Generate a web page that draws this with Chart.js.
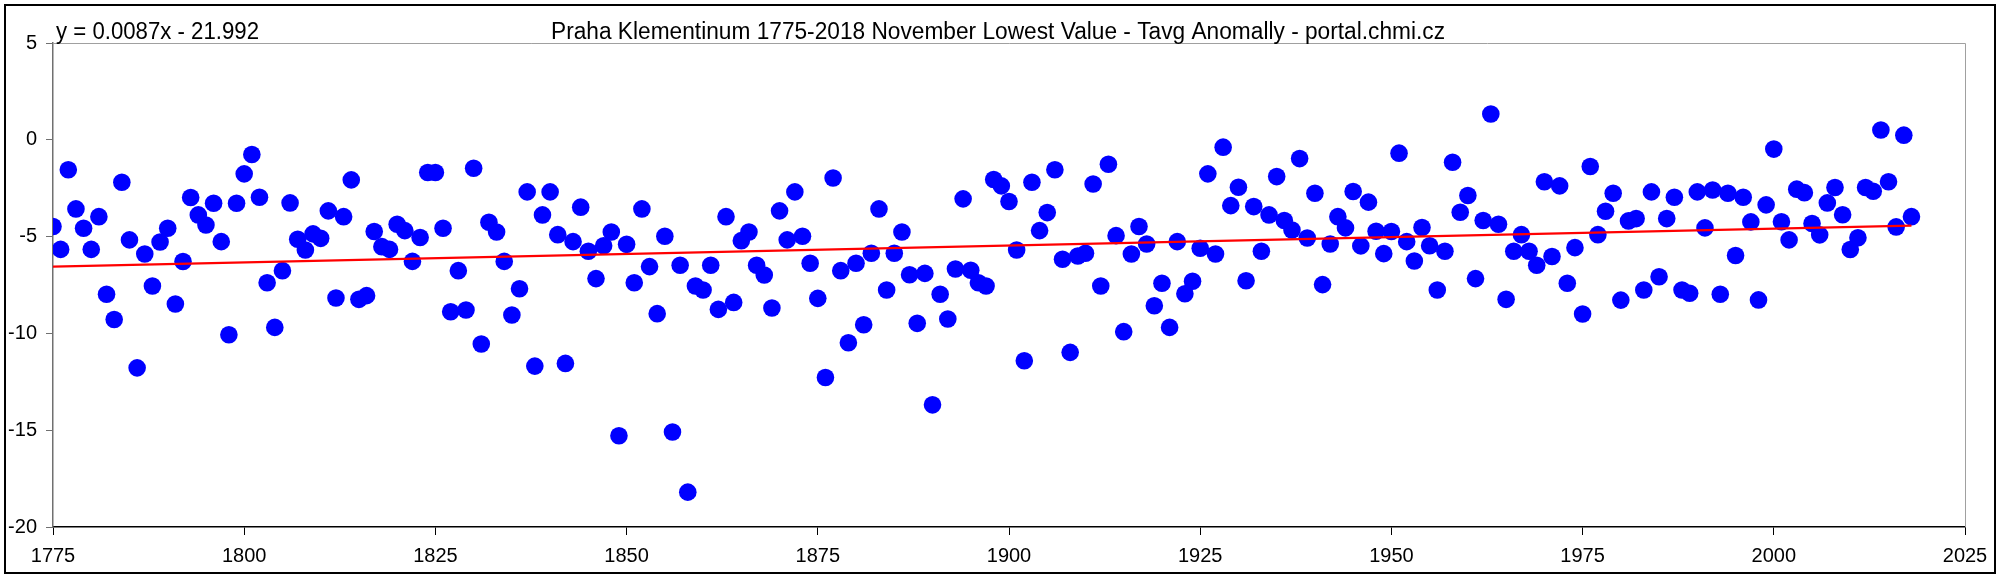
<!DOCTYPE html>
<html>
<head>
<meta charset="utf-8">
<title>Praha Klementinum November Lowest Value</title>
<script src="https://cdn.jsdelivr.net/npm/chart.js@4"></script>
<style>
  html, body { margin: 0; padding: 0; background: #fff; }
  #wrap { width: 2000px; height: 577px; }
</style>
</head>
<body>
<div id="wrap"><canvas id="chart" width="2000" height="577"></canvas></div>
<script>
// November lowest daily Tavg anomaly, Praha Klementinum
const firstYear = 1775;
const lowestValues = [
    -4.48, -5.66, -1.55, -3.57, -4.57, -5.66, -3.97, -7.98, -9.28, -2.19,   // 1775-1784
    -5.17, -11.78, -5.90, -7.55, -5.28, -4.57, -8.48, -6.29, -2.98, -3.88,  // 1785-1794
    -4.40, -3.28, -5.26, -10.07, -3.28, -1.76, -0.76, -2.97, -7.38, -9.69,  // 1795-1804
    -6.76, -3.26, -5.14, -5.69, -4.86, -5.09, -3.67, -8.17, -3.97, -2.07,   // 1805-1814
    -8.24, -8.05, -4.74, -5.52, -5.66, -4.36, -4.69, -6.28, -5.05, -1.69,   // 1815-1824
    -1.69, -4.57, -8.88, -6.76, -8.79, -1.47, -10.55, -4.26, -4.76, -6.28,  // 1825-1834
    -9.05, -7.69, -2.69, -11.69, -3.88, -2.69, -4.90, -11.55, -5.26, -3.48, // 1835-1844
    -5.76, -7.17, -5.47, -4.76, -15.29, -5.40, -7.38, -3.57, -6.55, -8.98,  // 1845-1854
    -4.98, -15.09, -6.48, -18.2, -7.55, -7.76, -6.48, -8.76, -3.97, -8.40,  // 1855-1864
    -5.21, -4.76, -6.48, -6.98, -8.69, -3.67, -5.17, -2.69, -4.98, -6.38,   // 1865-1874
    -8.19, -12.28, -1.97, -6.76, -10.48, -6.38, -9.55, -5.86, -3.57, -7.76, // 1875-1884
    -5.86, -4.76, -6.97, -9.48, -6.90, -13.69, -7.98, -9.26, -6.67, -3.05,  // 1885-1894
    -6.74, -7.38, -7.55, -2.05, -2.38, -3.19, -5.69, -11.41, -2.19, -4.69,  // 1895-1904
    -3.76, -1.55, -6.17, -10.98, -6.00, -5.86, -2.28, -7.55, -1.26, -4.95,  // 1905-1914
    -9.91, -5.90, -4.48, -5.38, -8.57, -7.41, -9.69, -5.26, -7.95, -7.31,   // 1915-1924
    -5.60, -1.76, -5.90, -0.38, -3.40, -2.45, -7.28, -3.45, -5.76, -3.88,   // 1925-1934
    -1.90, -4.17, -4.66, -0.97, -5.07, -2.76, -7.48, -5.38, -3.97, -4.55,   // 1935-1944
    -2.67, -5.48, -3.22, -4.72, -5.88, -4.74, -0.69, -5.26, -6.26, -4.53,   // 1945-1954
    -5.47, -7.76, -5.76, -1.16, -3.74, -2.88, -7.17, -4.17, 1.33, -4.36,    // 1955-1964
    -8.24, -5.76, -4.90, -5.76, -6.48, -2.17, -6.03, -2.38, -7.41, -5.57,   // 1965-1974
    -9.00, -1.38, -4.90, -3.69, -2.76, -8.28, -4.19, -4.07, -7.76, -2.69,   // 1975-1984
    -7.07, -4.07, -2.97, -7.76, -7.93, -2.69, -4.55, -2.59, -7.98, -2.76,   // 1985-1994
    -5.98, -2.97, -4.24, -8.27, -3.36, -0.48, -4.23, -5.17, -2.55, -2.73,   // 1995-2004
    -4.32, -4.91, -3.26, -2.46, -3.87, -5.67, -5.06, -2.46, -2.66, 0.51,    // 2005-2014
    -2.17, -4.50, 0.24, -3.97                                              // 2015-2018
];
const years = lowestValues.map((_, i) => firstYear + i);

// linear trend as printed on the chart: y = 0.0087x - 21.992
const trendSlope = 0.0087;
const trendIntercept = -21.992;
const trendYears = [years[0], years[years.length - 1]];

const titleText = 'Praha Klementinum 1775-2018 November Lowest Value - Tavg Anomally - portal.chmi.cz';
const equationText = 'y = 0.0087x - 21.992';

const FONT = '"Liberation Sans", Arial, sans-serif';

// draws white background, outer frame, plot frame and the two header texts
const decorPlugin = {
    id: 'decor',
    beforeDraw(chart) {
        const ctx = chart.ctx;
        ctx.save();
        ctx.fillStyle = '#fff';
        ctx.fillRect(0, 0, chart.width, chart.height);
        ctx.restore();
    },
    afterDraw(chart) {
        const ctx = chart.ctx;
        const a = chart.chartArea;
        ctx.save();
        // grey frame on top and right of plot area
        ctx.strokeStyle = '#a0a0a0';
        ctx.lineWidth = 1;
        ctx.beginPath();
        ctx.moveTo(a.left, a.top + 0.5);
        ctx.lineTo(a.right + 0.5, a.top + 0.5);
        ctx.lineTo(a.right + 0.5, a.bottom);
        ctx.stroke();
        // outer frame
        ctx.strokeStyle = '#000';
        ctx.lineWidth = 2;
        ctx.strokeRect(5, 5, chart.width - 10, chart.height - 9);

        // header texts, slightly condensed like the original
        ctx.fillStyle = '#000';
        ctx.font = '23px ' + FONT;
        ctx.textBaseline = 'alphabetic';
        drawSqueezed(ctx, titleText, 998, 39, 894, 'center');
        drawSqueezed(ctx, equationText, 56, 39, 203, 'left');
        ctx.restore();
    }
};

function drawSqueezed(ctx, text, x, y, width, align) {
    const w = ctx.measureText(text).width;
    const k = width / w;
    ctx.save();
    ctx.translate(align === 'center' ? x - width / 2 : x, y);
    ctx.scale(k, 1);
    ctx.textAlign = 'left';
    ctx.fillText(text, 0, 0);
    ctx.restore();
}

document.addEventListener('DOMContentLoaded', () => {
    const ctx = document.getElementById('chart').getContext('2d');

    new Chart(ctx, {
        type: 'scatter',
        data: {
            datasets: [
                {
                    label: 'Trend',
                    type: 'line',
                    data: trendYears.map(yr => ({ x: yr, y: trendSlope * yr + trendIntercept })),
                    borderColor: '#ff0000',
                    borderWidth: 2.2,
                    pointRadius: 0,
                    fill: false,
                    order: 0
                },
                {
                    label: 'Lowest value',
                    data: years.map((yr, i) => ({ x: yr, y: lowestValues[i] })),
                    pointRadius: 8.8,
                    pointBackgroundColor: '#0000ff',
                    pointBorderWidth: 0,
                    borderWidth: 0,
                    order: 1
                }
            ]
        },
        options: {
            responsive: false,
            animation: false,
            devicePixelRatio: 1,
            layout: { padding: { left: 0, right: 35, top: 43, bottom: 0 } },
            plugins: {
                legend: { display: false },
                title: { display: false },
                tooltip: { enabled: false }
            },
            scales: {
                x: {
                    type: 'linear',
                    min: 1775,
                    max: 2025,
                    afterFit: (scale) => { scale.height = 50; },
                    border: { display: true, color: '#000', width: 1.5 },
                    grid: { drawOnChartArea: false, drawTicks: true, tickLength: 8, color: '#000' },
                    ticks: {
                        stepSize: 25,
                        padding: 9,
                        color: '#000',
                        font: { family: FONT, size: 20 },
                        maxRotation: 0,
                        callback: (v) => String(v)
                    }
                },
                y: {
                    min: -20,
                    max: 5,
                    afterFit: (scale) => { scale.width = 53; },
                    border: { display: true, color: '#707070', width: 1.5 },
                    grid: { drawOnChartArea: false, drawTicks: true, tickLength: 7, color: '#707070' },
                    ticks: {
                        stepSize: 5,
                        padding: 9,
                        color: '#000',
                        font: { family: FONT, size: 20 }
                    }
                }
            }
        },
        plugins: [decorPlugin]
    });
});
</script>
</body>
</html>
